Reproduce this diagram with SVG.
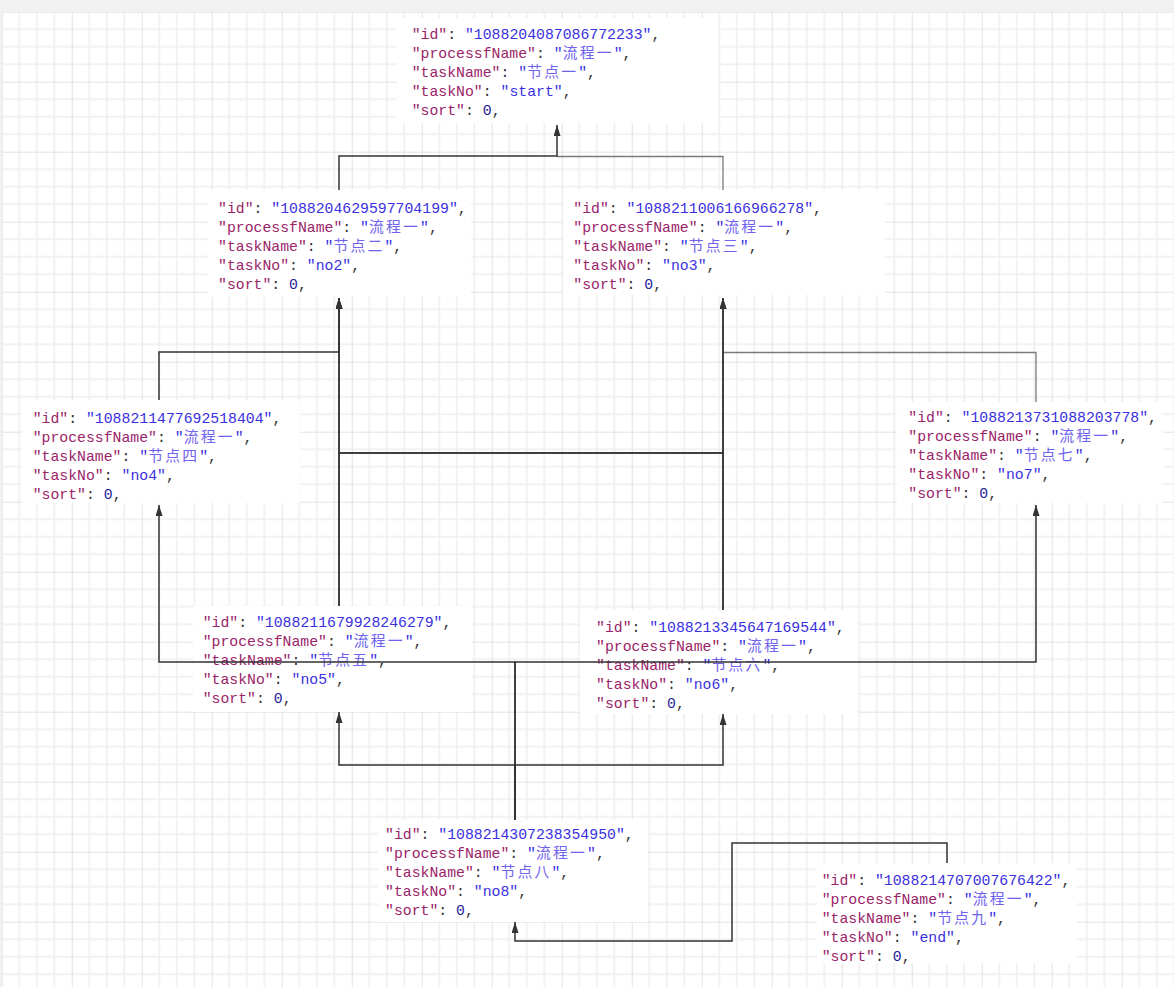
<svg xmlns="http://www.w3.org/2000/svg" width="1174" height="987" viewBox="0 0 1174 987">
<style>
.box{fill:#ffffff;stroke:none}
.t{font-family:"Liberation Mono","Noto Sans CJK SC",monospace;font-size:14.8px;fill:#333333}
.k{fill:#9a2468}
.s{fill:#3a30e0}
.c{font-family:"Noto Sans CJK SC",sans-serif;font-size:14.8px;letter-spacing:2.2px;fill:#6f63ee}
.n{fill:#23239a}
.p{fill:#333333}
.e{fill:none;stroke:#333333;stroke-width:1.5}
.eg{fill:none;stroke:#7a7a7a;stroke-width:1.3}
</style>
<defs>
<pattern id="grid" patternUnits="userSpaceOnUse" x="1.75" y="11.7" width="70" height="70">
<rect width="70" height="70" fill="#ffffff"/>
<path d="M17.5,0V70M35,0V70M52.5,0V70M0,17.5H70M0,35H70M0,52.5H70" stroke="#eeeeee" stroke-width="1.5" fill="none"/>
<path d="M0,0V70M0,0H70" stroke="#e3e3e3" stroke-width="2" fill="none"/>
</pattern>
<marker id="arr" markerUnits="userSpaceOnUse" markerWidth="12" markerHeight="8" refX="11" refY="3.5" orient="auto">
<path d="M0,0L11,3.5L0,7z" fill="#333333"/>
</marker>
</defs>
<rect width="1174" height="987" fill="#f1f1f1"/>
<rect x="1.75" y="11.7" width="1172.25" height="975.3" fill="url(#grid)"/>

<g id="node-1">
<rect class="box" x="397" y="18" width="321" height="105"/>
<text class="t" x="411.7" y="39"><tspan class="k">"id"</tspan><tspan class="p">: </tspan><tspan class="s">"1088204087086772233"</tspan><tspan class="p">,</tspan></text>
<text class="t" x="411.7" y="58"><tspan class="k">"processfName"</tspan><tspan class="p">: </tspan><tspan class="s">"</tspan><tspan class="c">流程一</tspan><tspan class="s">"</tspan><tspan class="p">,</tspan></text>
<text class="t" x="411.7" y="77"><tspan class="k">"taskName"</tspan><tspan class="p">: </tspan><tspan class="s">"</tspan><tspan class="c">节点一</tspan><tspan class="s">"</tspan><tspan class="p">,</tspan></text>
<text class="t" x="411.7" y="96"><tspan class="k">"taskNo"</tspan><tspan class="p">: </tspan><tspan class="s">"start"</tspan><tspan class="p">,</tspan></text>
<text class="t" x="411.7" y="115"><tspan class="k">"sort"</tspan><tspan class="p">: </tspan><tspan class="n">0</tspan><tspan class="p">,</tspan></text>
</g>

<g id="node-2">
<rect class="box" x="208" y="190" width="263" height="107"/>
<text class="t" x="218" y="213"><tspan class="k">"id"</tspan><tspan class="p">: </tspan><tspan class="s">"1088204629597704199"</tspan><tspan class="p">,</tspan></text>
<text class="t" x="218" y="232"><tspan class="k">"processfName"</tspan><tspan class="p">: </tspan><tspan class="s">"</tspan><tspan class="c">流程一</tspan><tspan class="s">"</tspan><tspan class="p">,</tspan></text>
<text class="t" x="218" y="251"><tspan class="k">"taskName"</tspan><tspan class="p">: </tspan><tspan class="s">"</tspan><tspan class="c">节点二</tspan><tspan class="s">"</tspan><tspan class="p">,</tspan></text>
<text class="t" x="218" y="270"><tspan class="k">"taskNo"</tspan><tspan class="p">: </tspan><tspan class="s">"no2"</tspan><tspan class="p">,</tspan></text>
<text class="t" x="218" y="289"><tspan class="k">"sort"</tspan><tspan class="p">: </tspan><tspan class="n">0</tspan><tspan class="p">,</tspan></text>
</g>

<g id="node-3">
<rect class="box" x="563" y="190" width="322" height="105"/>
<text class="t" x="573.3" y="213"><tspan class="k">"id"</tspan><tspan class="p">: </tspan><tspan class="s">"1088211006166966278"</tspan><tspan class="p">,</tspan></text>
<text class="t" x="573.3" y="232"><tspan class="k">"processfName"</tspan><tspan class="p">: </tspan><tspan class="s">"</tspan><tspan class="c">流程一</tspan><tspan class="s">"</tspan><tspan class="p">,</tspan></text>
<text class="t" x="573.3" y="251"><tspan class="k">"taskName"</tspan><tspan class="p">: </tspan><tspan class="s">"</tspan><tspan class="c">节点三</tspan><tspan class="s">"</tspan><tspan class="p">,</tspan></text>
<text class="t" x="573.3" y="270"><tspan class="k">"taskNo"</tspan><tspan class="p">: </tspan><tspan class="s">"no3"</tspan><tspan class="p">,</tspan></text>
<text class="t" x="573.3" y="289"><tspan class="k">"sort"</tspan><tspan class="p">: </tspan><tspan class="n">0</tspan><tspan class="p">,</tspan></text>
</g>

<g id="node-4">
<rect class="box" x="22" y="400" width="278" height="103"/>
<text class="t" x="32.7" y="423"><tspan class="k">"id"</tspan><tspan class="p">: </tspan><tspan class="s">"1088211477692518404"</tspan><tspan class="p">,</tspan></text>
<text class="t" x="32.7" y="442"><tspan class="k">"processfName"</tspan><tspan class="p">: </tspan><tspan class="s">"</tspan><tspan class="c">流程一</tspan><tspan class="s">"</tspan><tspan class="p">,</tspan></text>
<text class="t" x="32.7" y="461"><tspan class="k">"taskName"</tspan><tspan class="p">: </tspan><tspan class="s">"</tspan><tspan class="c">节点四</tspan><tspan class="s">"</tspan><tspan class="p">,</tspan></text>
<text class="t" x="32.7" y="480"><tspan class="k">"taskNo"</tspan><tspan class="p">: </tspan><tspan class="s">"no4"</tspan><tspan class="p">,</tspan></text>
<text class="t" x="32.7" y="499"><tspan class="k">"sort"</tspan><tspan class="p">: </tspan><tspan class="n">0</tspan><tspan class="p">,</tspan></text>
</g>

<g id="node-7">
<rect class="box" x="897" y="402" width="266" height="101"/>
<text class="t" x="908.3" y="421.7"><tspan class="k">"id"</tspan><tspan class="p">: </tspan><tspan class="s">"1088213731088203778"</tspan><tspan class="p">,</tspan></text>
<text class="t" x="908.3" y="440.7"><tspan class="k">"processfName"</tspan><tspan class="p">: </tspan><tspan class="s">"</tspan><tspan class="c">流程一</tspan><tspan class="s">"</tspan><tspan class="p">,</tspan></text>
<text class="t" x="908.3" y="459.7"><tspan class="k">"taskName"</tspan><tspan class="p">: </tspan><tspan class="s">"</tspan><tspan class="c">节点七</tspan><tspan class="s">"</tspan><tspan class="p">,</tspan></text>
<text class="t" x="908.3" y="478.7"><tspan class="k">"taskNo"</tspan><tspan class="p">: </tspan><tspan class="s">"no7"</tspan><tspan class="p">,</tspan></text>
<text class="t" x="908.3" y="497.7"><tspan class="k">"sort"</tspan><tspan class="p">: </tspan><tspan class="n">0</tspan><tspan class="p">,</tspan></text>
</g>

<g id="node-5">
<rect class="box" x="193" y="606" width="279" height="106"/>
<text class="t" x="202.7" y="626.7"><tspan class="k">"id"</tspan><tspan class="p">: </tspan><tspan class="s">"1088211679928246279"</tspan><tspan class="p">,</tspan></text>
<text class="t" x="202.7" y="645.7"><tspan class="k">"processfName"</tspan><tspan class="p">: </tspan><tspan class="s">"</tspan><tspan class="c">流程一</tspan><tspan class="s">"</tspan><tspan class="p">,</tspan></text>
<text class="t" x="202.7" y="664.7"><tspan class="k">"taskName"</tspan><tspan class="p">: </tspan><tspan class="s">"</tspan><tspan class="c">节点五</tspan><tspan class="s">"</tspan><tspan class="p">,</tspan></text>
<text class="t" x="202.7" y="683.7"><tspan class="k">"taskNo"</tspan><tspan class="p">: </tspan><tspan class="s">"no5"</tspan><tspan class="p">,</tspan></text>
<text class="t" x="202.7" y="702.7"><tspan class="k">"sort"</tspan><tspan class="p">: </tspan><tspan class="n">0</tspan><tspan class="p">,</tspan></text>
</g>

<g id="node-6">
<rect class="box" x="580" y="610" width="278" height="104"/>
<text class="t" x="596" y="631.5"><tspan class="k">"id"</tspan><tspan class="p">: </tspan><tspan class="s">"1088213345647169544"</tspan><tspan class="p">,</tspan></text>
<text class="t" x="596" y="650.5"><tspan class="k">"processfName"</tspan><tspan class="p">: </tspan><tspan class="s">"</tspan><tspan class="c">流程一</tspan><tspan class="s">"</tspan><tspan class="p">,</tspan></text>
<text class="t" x="596" y="669.5"><tspan class="k">"taskName"</tspan><tspan class="p">: </tspan><tspan class="s">"</tspan><tspan class="c">节点六</tspan><tspan class="s">"</tspan><tspan class="p">,</tspan></text>
<text class="t" x="596" y="688.5"><tspan class="k">"taskNo"</tspan><tspan class="p">: </tspan><tspan class="s">"no6"</tspan><tspan class="p">,</tspan></text>
<text class="t" x="596" y="707.5"><tspan class="k">"sort"</tspan><tspan class="p">: </tspan><tspan class="n">0</tspan><tspan class="p">,</tspan></text>
</g>

<g id="node-8">
<rect class="box" x="378" y="820" width="270" height="102"/>
<text class="t" x="385" y="839"><tspan class="k">"id"</tspan><tspan class="p">: </tspan><tspan class="s">"1088214307238354950"</tspan><tspan class="p">,</tspan></text>
<text class="t" x="385" y="858"><tspan class="k">"processfName"</tspan><tspan class="p">: </tspan><tspan class="s">"</tspan><tspan class="c">流程一</tspan><tspan class="s">"</tspan><tspan class="p">,</tspan></text>
<text class="t" x="385" y="877"><tspan class="k">"taskName"</tspan><tspan class="p">: </tspan><tspan class="s">"</tspan><tspan class="c">节点八</tspan><tspan class="s">"</tspan><tspan class="p">,</tspan></text>
<text class="t" x="385" y="896"><tspan class="k">"taskNo"</tspan><tspan class="p">: </tspan><tspan class="s">"no8"</tspan><tspan class="p">,</tspan></text>
<text class="t" x="385" y="915"><tspan class="k">"sort"</tspan><tspan class="p">: </tspan><tspan class="n">0</tspan><tspan class="p">,</tspan></text>
</g>

<g id="node-9">
<rect class="box" x="817" y="863" width="260" height="100"/>
<text class="t" x="821.7" y="885"><tspan class="k">"id"</tspan><tspan class="p">: </tspan><tspan class="s">"1088214707007676422"</tspan><tspan class="p">,</tspan></text>
<text class="t" x="821.7" y="904"><tspan class="k">"processfName"</tspan><tspan class="p">: </tspan><tspan class="s">"</tspan><tspan class="c">流程一</tspan><tspan class="s">"</tspan><tspan class="p">,</tspan></text>
<text class="t" x="821.7" y="923"><tspan class="k">"taskName"</tspan><tspan class="p">: </tspan><tspan class="s">"</tspan><tspan class="c">节点九</tspan><tspan class="s">"</tspan><tspan class="p">,</tspan></text>
<text class="t" x="821.7" y="942"><tspan class="k">"taskNo"</tspan><tspan class="p">: </tspan><tspan class="s">"end"</tspan><tspan class="p">,</tspan></text>
<text class="t" x="821.7" y="961"><tspan class="k">"sort"</tspan><tspan class="p">: </tspan><tspan class="n">0</tspan><tspan class="p">,</tspan></text>
</g>

<g id="connectors">
<path class="eg" d="M723,190V156.5H557"/>
<path class="eg" d="M1036,402V352.5H723"/>
<path class="e" d="M339,190V156H557V125" marker-end="url(#arr)"/>
<path class="e" d="M159,400V352H339V298" marker-end="url(#arr)"/>
<path class="e" d="M339,606V298" marker-end="url(#arr)"/>
<path class="e" d="M339,606V453H723V298" marker-end="url(#arr)"/>
<path class="e" d="M723,610V298" marker-end="url(#arr)"/>
<path class="e" d="M723,610V453H339V298" marker-end="url(#arr)"/>
<path class="e" d="M515,820V662H159V505" marker-end="url(#arr)"/>
<path class="e" d="M515,820V662H1036V505" marker-end="url(#arr)"/>
<path class="e" d="M515,820V765H339V712" marker-end="url(#arr)"/>
<path class="e" d="M515,820V765H723V714" marker-end="url(#arr)"/>
<path class="e" d="M947,863V843H732V941H515V922" marker-end="url(#arr)"/>
</g>
</svg>
